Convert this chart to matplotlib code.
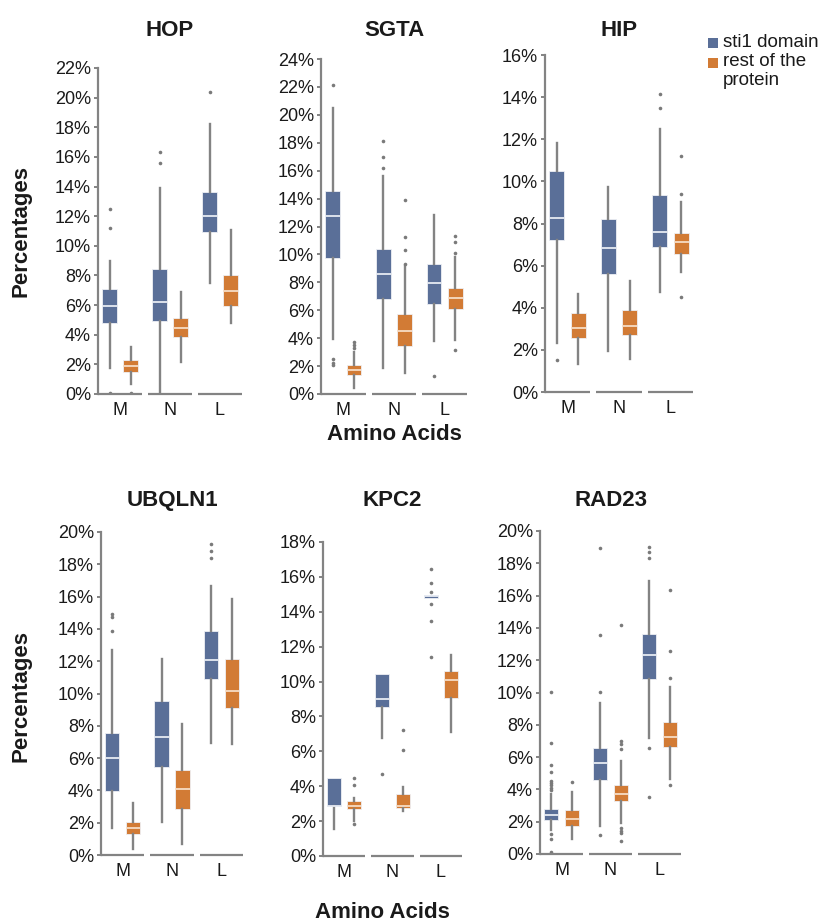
import matplotlib
matplotlib.use("Agg")
import matplotlib.pyplot as plt
from matplotlib.patches import Rectangle

plt.rcParams['font.family'] = ['Liberation Sans', 'DejaVu Sans']

proteins = ["HOP", "SGTA", "HIP", "UBQLN1", "KPC2", "RAD23"]
amino_acids = ["M", "N", "L"]
y_top = [22, 24, 16, 20, 18, 20]

# box stats per protein, per amino acid (M, N, L), values in %
sti1_lo = [[1.78, 0.15, 7.48], [3.94, 1.86, 3.82], [2.32, 1.96, 4.74],
           [1.65, 2.07, 6.96], [1.53, 6.76, 14.8], [1.5, 1.71, 7.18]]
sti1_q1 = [[4.82, 4.93, 10.9], [9.74, 6.83, 6.47], [7.23, 5.61, 6.88],
           [3.99, 5.45, 10.91], [2.86, 8.52, 14.8], [2.12, 4.56, 10.85]]
sti1_med = [[5.95, 6.24, 11.98], [12.72, 8.57, 7.95], [8.24, 6.86, 7.6],
            [5.99, 7.31, 12.09], [2.86, 9.0, 14.88], [2.43, 5.63, 12.33]]
sti1_q3 = [[7.07, 8.42, 13.63], [14.56, 10.41, 9.31], [10.47, 8.22, 9.34],
           [7.58, 9.55, 13.86], [4.45, 10.45, 14.98], [2.78, 6.56, 13.61]]
sti1_hi = [[8.99, 13.9, 18.2], [20.5, 15.64, 12.8], [11.84, 9.71, 12.49],
           [12.67, 12.13, 16.67], [4.45, 10.45, 14.98], [3.7, 9.38, 16.91]]
sti1_out = [
    [[12.48, 11.2, 0.1], [16.3, 15.6], [20.4]],
    [[22.16, 2.5, 2.25, 2.05], [18.14, 16.95, 16.19], [1.26]],
    [[1.5], [], [14.13, 13.47]],
    [[14.92, 14.73, 13.86], [], [19.26, 18.8, 18.37]],
    [[], [4.72], [16.44, 15.64, 15.12, 14.45, 13.45, 11.4]],
    [[10.06, 6.87, 5.5, 5.05, 4.52, 4.39, 4.25, 4.08, 3.95, 1.24, 0.93, 0.14],
     [18.93, 13.57, 10.06, 1.2], [19.03, 18.68, 18.33, 6.56, 3.51]],
]

rest_lo = [[0.68, 2.14, 4.77], [0.43, 1.5, 3.89], [1.34, 1.57, 5.72],
           [0.35, 0.7, 6.88], [2.03, 2.56, 7.08], [0.93, 1.92, 4.66]]
rest_q1 = [[1.46, 3.87, 5.95], [1.38, 3.46, 6.11], [2.55, 2.72, 6.55],
           [1.28, 2.85, 9.11], [2.69, 2.75, 9.03], [1.71, 3.26, 6.64]]
rest_med = [[1.89, 4.48, 6.98], [1.74, 4.49, 6.85], [3.05, 3.13, 7.1],
            [1.67, 4.11, 10.14], [2.84, 2.84, 10.08], [2.16, 3.71, 7.22]]
rest_q3 = [[2.30, 5.11, 8.04], [2.1, 5.75, 7.59], [3.73, 3.89, 7.54],
           [2.07, 5.27, 12.13], [3.14, 3.58, 10.6], [2.7, 4.29, 8.16]]
rest_hi = [[3.15, 6.89, 11.08], [3.0, 9.2, 9.83], [4.66, 5.28, 9.01],
           [3.2, 8.1, 15.87], [3.31, 3.96, 11.5], [3.81, 5.73, 10.37]]
rest_out = [
    [[0.1], [], []],
    [[3.75, 3.53, 3.31], [13.92, 11.27, 10.29, 9.33], [11.34, 10.91, 10.1, 3.12]],
    [[], [], [11.21, 9.42, 4.52]],
    [[], [], []],
    [[4.47, 4.07, 1.82], [7.2, 6.1], []],
    [[4.43], [14.19, 6.97, 6.82, 6.49, 1.61, 1.44, 1.3, 0.82], [16.33, 12.6, 10.91, 4.25]],
]

blue = "#5a6f98"
orange = "#d27b35"
grey = "#838383"
W, H = 823, 924

# axes boxes in pixels: left, right, top, bottom
panel_px = [(98, 242, 68, 394), (321, 467, 59, 394), (545, 693, 55, 392),
            (101, 243, 532, 855), (323, 462, 542, 856), (540, 681, 531, 854)]

fig = plt.figure(figsize=(W / 100, H / 100), dpi=100)


def stats(lo, q1, med, q3, hi, out):
    return [dict(whislo=lo[i], q1=q1[i], med=med[i], q3=q3[i], whishi=hi[i],
                 fliers=out[i]) for i in range(3)]


for p, name in enumerate(proteins):
    l, r, t, b = panel_px[p]
    ax = fig.add_axes([l / W, 1 - b / H, (r - l) / W, (b - t) / H])
    x = list(range(len(amino_acids)))
    for st, col, off, medc in [
        (stats(sti1_lo[p], sti1_q1[p], sti1_med[p], sti1_q3[p], sti1_hi[p], sti1_out[p]),
         blue, -0.21, "#e6eaf2"),
        (stats(rest_lo[p], rest_q1[p], rest_med[p], rest_q3[p], rest_hi[p], rest_out[p]),
         orange, 0.21, "#f6dcc4"),
    ]:
        ax.bxp(st, positions=[i + off for i in x], widths=0.29, patch_artist=True,
               showcaps=False, manage_ticks=False,
               boxprops=dict(facecolor=col, edgecolor="#eef0f4", linewidth=0.6),
               whiskerprops=dict(color=grey, linewidth=1.7),
               medianprops=dict(color=medc, linewidth=1.3),
               flierprops=dict(marker="o", markersize=2.6, markerfacecolor="#7a7a7a",
                               markeredgecolor="none"))
    ax.hlines([0] * 3, [i - 0.44 for i in x], [i + 0.44 for i in x],
              color=grey, linewidth=1.6, clip_on=False)
    ax.set_xlim(-0.44, 2.44)
    ax.set_ylim(0, y_top[p])
    ticks = list(range(0, y_top[p] + 1, 2))
    ax.set_yticks(ticks)
    ax.set_yticklabels([f"{v}%" for v in ticks])
    ax.set_xticks(x)
    ax.set_xticklabels(amino_acids)
    for s in ["top", "right", "bottom"]:
        ax.spines[s].set_visible(False)
    ax.spines["left"].set_color(grey)
    ax.spines["left"].set_linewidth(1.6)
    ax.tick_params(axis="y", length=3, width=1.4, color=grey, pad=2,
                   labelsize=13, labelcolor="#1a1a1a")
    ax.tick_params(axis="x", length=0, pad=6, labelsize=13, labelcolor="#1a1a1a")
    ax.patch.set_alpha(0)
    # titles
    yb = 36 if p < 3 else 506
    fig.text((l + r) / 2 / W, 1 - yb / H, name, ha="center", va="baseline",
             fontsize=16, fontweight="bold", color="#1a1a1a")

for yc in [231, 696]:
    fig.text(21 / W, 1 - yc / H, "Percentages", rotation=90, ha="center",
             va="center", fontsize=16, fontweight="bold", color="#1a1a1a")
fig.text(394 / W, 1 - 439.5 / H, "Amino Acids", ha="center", va="baseline",
         fontsize=16, fontweight="bold", color="#1a1a1a")
fig.text(382 / W, 1 - 923 / H, "Amino Acids", ha="center", va="bottom",
         fontsize=16, fontweight="bold", color="#1a1a1a")

# legend
for yt, col in [(38.3, blue), (57.7, orange)]:
    fig.patches.append(Rectangle((708 / W, 1 - (yt + 10) / H), 10 / W, 10 / H,
                                 transform=fig.transFigure, facecolor=col,
                                 edgecolor="none"))
for yb, txt in [(46.7, "sti1 domain"), (66, "rest of the"), (85.3, "protein")]:
    fig.text(723 / W, 1 - yb / H, txt, ha="left", va="baseline", fontsize=13.5,
             color="#1a1a1a")

fig.savefig("out.png", dpi=100)
